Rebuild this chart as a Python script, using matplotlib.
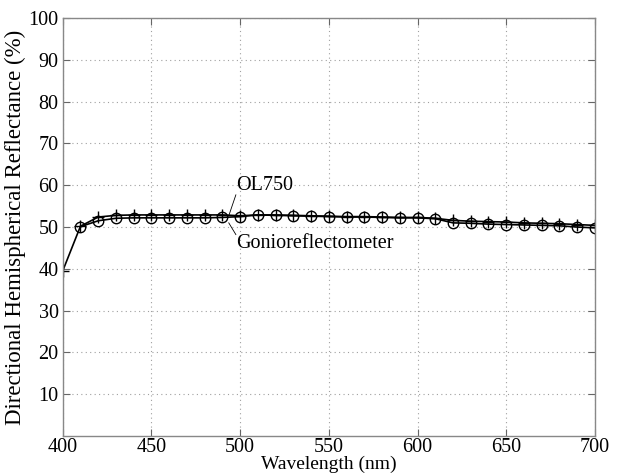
import matplotlib
matplotlib.use('Agg')
import matplotlib.pyplot as plt

plt.rcParams['font.family'] = ['Liberation Serif', 'DejaVu Serif']

# OL750 measurement (+ markers)
ol_nm = [400, 410, 420, 430, 440, 450, 460, 470, 480, 490, 500, 510, 520, 530, 540, 550,
         560, 570, 580, 590, 600, 610, 620, 630, 640, 650, 660, 670, 680, 690, 700]
ol_val = [39.5, 50.2, 52.4, 52.8, 52.9, 52.9, 52.9, 52.9, 52.9, 52.9, 52.7, 52.9, 52.9, 52.8, 52.7, 52.6,
          52.5, 52.5, 52.4, 52.3, 52.3, 52.1, 51.6, 51.4, 51.3, 51.2, 51.0, 50.9, 50.8, 50.6, 50.4]

# gonioreflectometer (o markers)
gon_nm = [410, 420, 430, 440, 450, 460, 470, 480, 490, 500, 510, 520, 530, 540, 550,
          560, 570, 580, 590, 600, 610, 620, 630, 640, 650, 660, 670, 680, 690, 700]
gon_val = [50.1, 51.5, 52.1, 52.2, 52.2, 52.2, 52.2, 52.2, 52.3, 52.5, 52.9, 52.8, 52.7, 52.6, 52.5,
           52.4, 52.4, 52.3, 52.2, 52.2, 52.0, 51.0, 50.9, 50.7, 50.6, 50.5, 50.4, 50.3, 50.0, 49.8]

x_ticks = [400, 450, 500, 550, 600, 650, 700]
y_ticks = [10, 20, 30, 40, 50, 60, 70, 80, 90, 100]

fig = plt.figure(figsize=(6.21, 4.76), dpi=100)
ax = fig.add_axes([0.101, 0.084, 0.857, 0.878])

ax.plot(ol_nm, ol_val, color='black', lw=1.2, marker='+', ms=8, mew=1.0)
ax.plot(gon_nm, gon_val, color='black', lw=1.2, marker='o', ms=7.5, mfc='none', mew=1.0)

# labels with leader lines
ax.plot([493.6, 497.6], [52.7, 57.7], color='black', lw=0.6)
ax.plot([493.6, 497.6], [51.0, 48.2], color='black', lw=0.6)
ax.text(497.6, 60.0, 'OL750', fontsize=14.5, ha='left', va='center')
ax.text(497.6, 46.0, 'Gonioreflectometer', fontsize=14.5, ha='left', va='center')

ax.set_xlim(400, 700)
ax.set_ylim(0, 100)
ax.set_xticks(x_ticks)
ax.set_yticks(y_ticks)
ax.grid(True, linestyle=(0, (1, 3)), color='#a0a0a0', linewidth=0.8)
ax.tick_params(direction='in', top=True, right=True, length=5, labelsize=14.5,
               color='#666666', pad=3)
ax.tick_params(axis='x', pad=1.5)
for s in ax.spines.values():
    s.set_color('#888888')
    s.set_linewidth(1.0)

ax.set_xlabel('Wavelength (nm)', fontsize=14, labelpad=-1)
ax.set_ylabel('Directional Hemispherical Reflectance (%)', fontsize=16.5, labelpad=2)

fig.savefig('out.png', dpi=100)
